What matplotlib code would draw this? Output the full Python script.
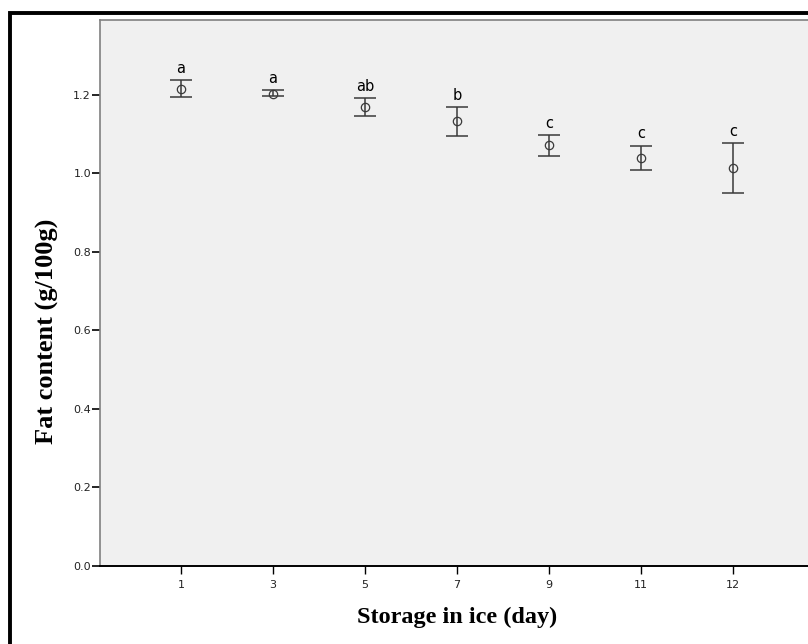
import matplotlib
matplotlib.use("Agg")
import matplotlib.pyplot as plt
from matplotlib.patches import Rectangle
import numpy as np

# data
days = ["1", "3", "5", "7", "9", "11", "12"]
fat_mean = [1.216, 1.203, 1.170, 1.133, 1.072, 1.040, 1.013]
ci_upper = [1.238, 1.212, 1.192, 1.170, 1.098, 1.071, 1.078]
ci_lower = [1.194, 1.198, 1.147, 1.096, 1.045, 1.010, 0.949]
letters = ["a", "a", "ab", "b", "c", "c", "c"]

W, H = 808, 644
fig = plt.figure(figsize=(W / 100, H / 100), dpi=100)
fig.patch.set_facecolor("white")

# axes box in pixels (left, top, right, bottom); right side runs off the picture
left, top, right, bottom = 100, 20, 814, 566
ax = fig.add_axes([left / W, 1 - bottom / H, (right - left) / W, (bottom - top) / H])
ax.set_facecolor("#f0f0f0")

x = np.arange(len(days))
mean = np.array(fat_mean)
err = [mean - np.array(ci_lower), np.array(ci_upper) - mean]

ax.errorbar(x, mean, yerr=err, fmt="none", ecolor="#3a3a3a", elinewidth=1.1,
            capsize=7.9, capthick=1.1, zorder=3)
ax.plot(x, mean, "o", mfc="none", mec="#3a3a3a", ms=6, mew=0.9, zorder=4)

for xi, up, lab in zip(x, ci_upper, letters):
    ax.annotate(lab, (xi, up), xytext=(0, 3), textcoords="offset points",
                ha="center", va="bottom", fontsize=10.5, color="black",
                family="DejaVu Sans")

ax.set_xlim(-0.88, len(days) - 1 + 0.88)
ax.set_ylim(0, 1.391)
ax.set_xticks(x)
ax.set_xticklabels(days)
ax.set_yticks(np.arange(0, 1.21, 0.2))
ax.set_yticklabels([f"{v:.1f}" for v in np.arange(0, 1.21, 0.2)])

for lab in ax.get_xticklabels() + ax.get_yticklabels():
    lab.set_fontfamily("DejaVu Sans")
    lab.set_fontsize(8)
    lab.set_color("#222222")

ax.tick_params(axis="y", direction="out", length=5.5, width=1.2, color="black", pad=1)
ax.tick_params(axis="x", direction="out", length=6, width=1.0, color="black", pad=4)

ax.spines["left"].set_color("#808080")
ax.spines["left"].set_linewidth(1.2)
ax.spines["top"].set_color("#808080")
ax.spines["top"].set_linewidth(1.2)
ax.spines["bottom"].set_color("black")
ax.spines["bottom"].set_linewidth(1.4)
ax.spines["right"].set_visible(False)

ax.set_xlabel("Storage in ice (day)", family="Liberation Serif", fontweight="bold",
              fontsize=17.5, labelpad=12)
ax.set_ylabel("Fat content (g/100g)", family="Liberation Serif", fontweight="bold",
              fontsize=19)
# the title sits a bit below the middle of the axis, as in the source
ax.yaxis.set_label_coords(-0.058, 0.43)

# outer frame of the exported chart, only its left and top edges are in view
frame = Rectangle((10 / W, -0.2), 1.5, 1 - 13.5 / H + 0.2, transform=fig.transFigure,
                  fill=False, edgecolor="black", linewidth=2.8, clip_on=False)
fig.patches.append(frame)

fig.savefig("out.png", dpi=100)
